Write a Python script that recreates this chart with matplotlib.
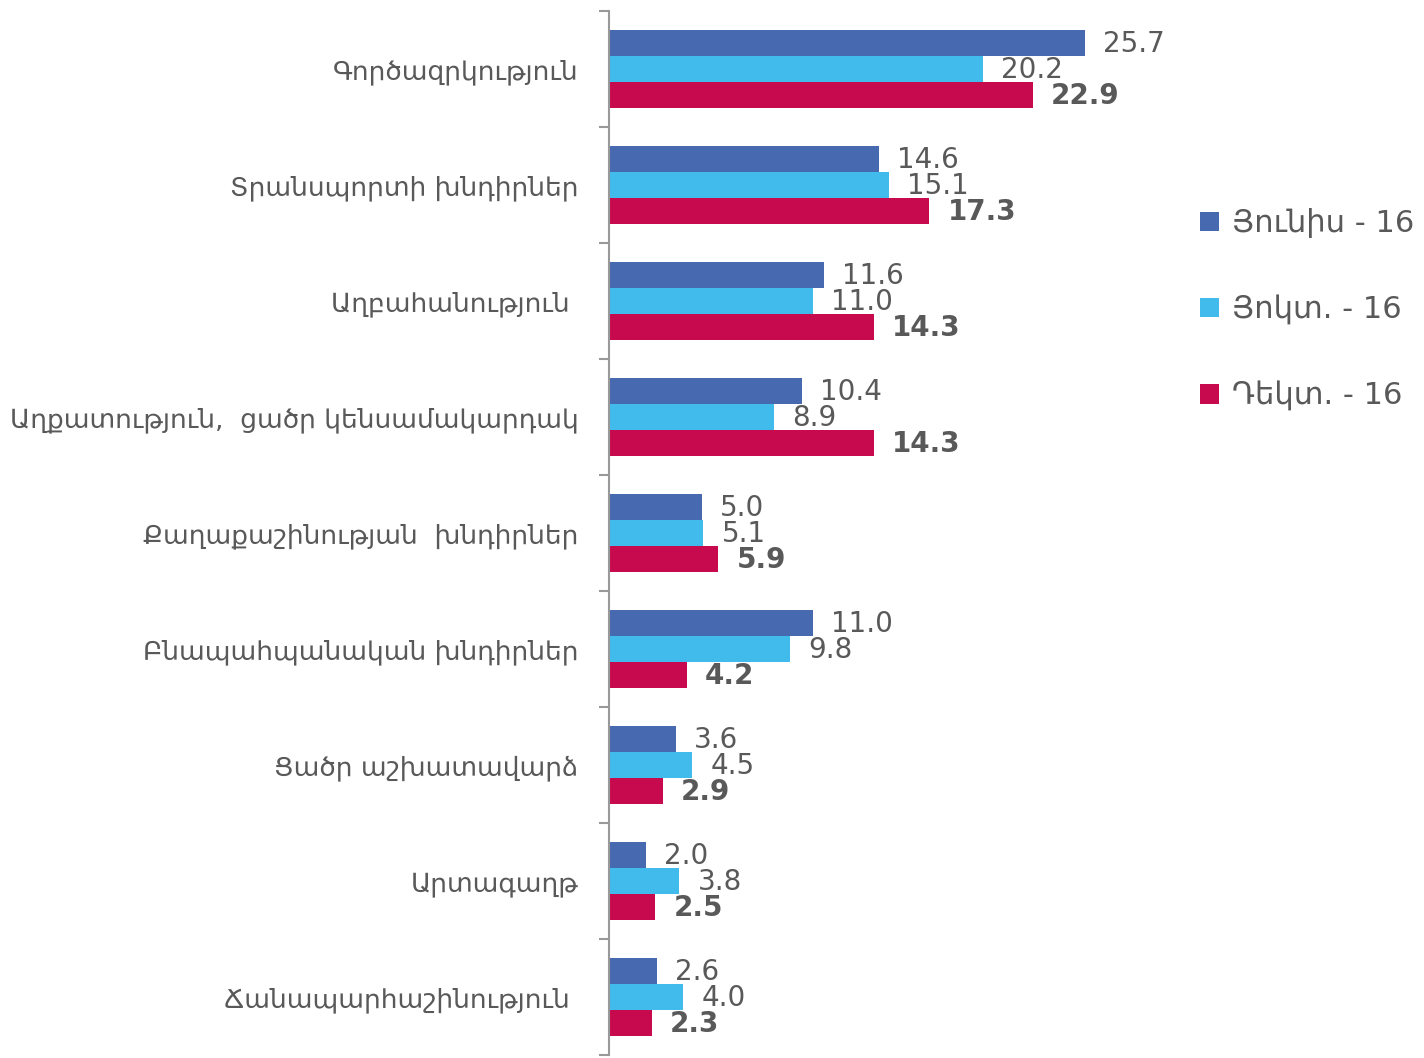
import matplotlib
matplotlib.use('Agg')
import numpy as np
import matplotlib.pyplot as plt

# տվյալներ
categories = ['Գործազրկություն', 'Տրանսպորտի խնդիրներ', 'Աղբահանություն ',
              'Աղքատություն,  ցածր կենսամակարդակ', 'Քաղաքաշինության  խնդիրներ',
              'Բնապահպանական խնդիրներ', 'Ցածր աշխատավարձ', 'Արտագաղթ',
              'Ճանապարհաշինություն ']
series_names = ['Յունիս - 16', 'Յոկտ. - 16', 'Դեկտ. - 16']
jun_16 = [25.7, 14.6, 11.6, 10.4, 5.0, 11.0, 3.6, 2.0, 2.6]
oct_16 = [20.2, 15.1, 11.0, 8.9, 5.1, 9.8, 4.5, 3.8, 4.0]
dec_16 = [22.9, 17.3, 14.3, 14.3, 5.9, 4.2, 2.9, 2.5, 2.3]

colors = ['#4769B0', '#41BAEC', '#C70A4E']
text_grey = '#595959'
axis_grey = '#999999'

plt.rcParams['font.family'] = ['DejaVu Sans']

fig = plt.figure(figsize=(14.24, 10.58), dpi=100)
ax = fig.add_axes([609 / 1424, 3 / 1058, 571 / 1424, 1044 / 1058])

y = np.arange(len(categories))
h = 0.224
series = [jun_16, oct_16, dec_16]
for k, (vals, col, name) in enumerate(zip(series, colors, series_names)):
    pos = y + (k - 1) * h
    ax.barh(pos, vals, height=h, color=col, label=name)
    for yy, v in zip(pos, vals):
        ax.annotate('%.1f' % v, xy=(v, yy), xytext=(13, -1), textcoords='offset points',
                    ha='left', va='center', fontsize=20, color=text_grey,
                    fontweight='bold' if k == 2 else 'normal')

ax.set_xlim(0, 571 / 18.52)
ax.set_ylim(len(categories) - 0.5, -0.5)

ax.set_yticks(y)
ax.set_yticklabels(categories, fontsize=19, color=text_grey)
ax.tick_params(axis='y', which='major', length=0, pad=22)
ax.set_yticks(np.arange(-0.5, len(categories), 1.0), minor=True)
ax.tick_params(axis='y', which='minor', length=7.5, width=1.5, color=axis_grey, direction='out')
ax.set_xticks([])

for s in ['top', 'right', 'bottom']:
    ax.spines[s].set_visible(False)
ax.spines['left'].set_color(axis_grey)
ax.spines['left'].set_linewidth(1.5)

leg = fig.legend(loc='upper left', bbox_to_anchor=(1188 / 1424, 1 - 196 / 1058),
                 frameon=False, fontsize=22, handlelength=0.6, handleheight=0.6,
                 handletextpad=0.45, labelspacing=1.85, borderaxespad=0)
for t in leg.get_texts():
    t.set_color(text_grey)

fig.savefig('out.png', dpi=100)
